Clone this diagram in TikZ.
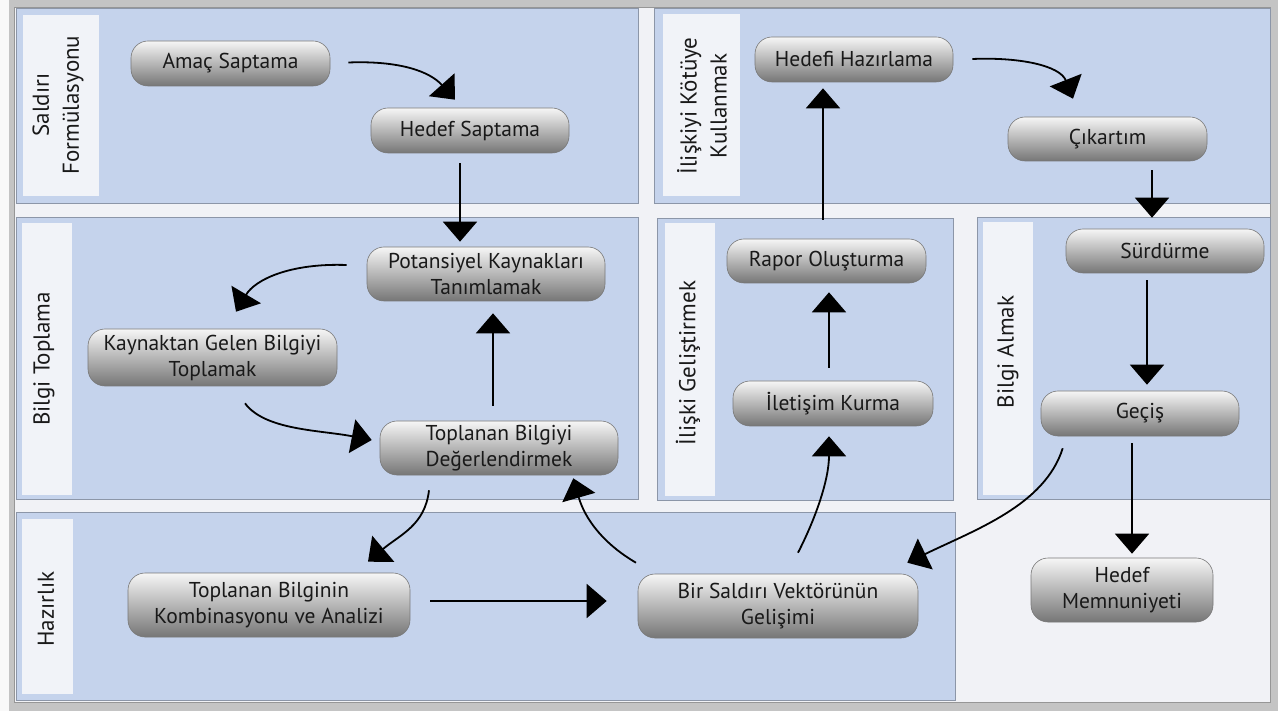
\documentclass[tikz,border=0pt]{standalone}
\usepackage{fontspec}
\setmainfont{PT Sans}
\usetikzlibrary{arrows.meta,calc}
\definecolor{panelfill}{RGB}{197,211,236}
\definecolor{paneledge}{RGB}{140,150,168}
\definecolor{stripfill}{RGB}{241,243,248}
\definecolor{bgfill}{RGB}{241,242,246}
\definecolor{framegray}{RGB}{196,196,196}
\definecolor{frameline}{RGB}{150,150,150}
\definecolor{nodetop}{RGB}{246,246,246}
\definecolor{nodebot}{RGB}{118,118,118}
\definecolor{nodeedge}{RGB}{120,120,120}
\definecolor{txt}{RGB}{25,25,25}
\begin{document}
\begin{tikzpicture}[x=1pt,y=-1pt,
  panel/.style={draw=paneledge, fill=panelfill, line width=0.8pt},
  strip/.style={fill=stripfill},
  lanelabel/.style={rotate=90, align=center, font=\fontsize{23}{30}\selectfont, text=txt, inner sep=0pt},
  proc/.style={draw=nodeedge, line width=0.6pt, rounded corners=17pt, top color=nodetop, bottom color=nodebot, align=center, font=\fontsize{21.5}{26}\selectfont, text=txt, inner sep=0pt},
  flow/.style={line width=1.8pt, -{Triangle[width=34pt,length=20pt]}}
]
\useasboundingbox (0,0) rectangle (1278,711);
% frame and background
\fill[framegray] (0,0) rectangle (1278,711);
\fill[white!90!framegray] (0,0) rectangle (9,711);
\fill[bgfill] (14,7) rectangle (1270,702);
\draw[frameline, line width=0.8pt] (14,7) rectangle (1270,702);

% panels
\path[panel] (16,8) rectangle (638,203);
\path[strip] (23,15) rectangle (99,196);
\path[panel] (654,8) rectangle (1270,203);
\path[strip] (663,14) rectangle (740,196);
\path[panel] (16,217) rectangle (638,499);
\path[strip] (22,223) rectangle (72,495);
\path[panel] (657,218) rectangle (953,500);
\path[strip] (665,223) rectangle (715,496);
\path[panel] (977,217) rectangle (1270,499);
\path[strip] (983,222) rectangle (1033,495);
\path[panel] (16,512) rectangle (955,700);
\path[strip] (22,519) rectangle (73,694);

% lane labels
\node[lanelabel] (l1) at (58,105) {Saldırı\\Formülasyonu};
\node[lanelabel] (l2) at (702,106) {İlişkiyi Kötüye\\Kullanmak};
\node[lanelabel] (l3) at (44,359) {Bilgi Toplama};
\node[lanelabel] (l4) at (688,363) {İlişki Geliştirmek};
\node[lanelabel] (l5) at (1008,352) {Bilgi Almak};
\node[lanelabel] (l6) at (46,609) {Hazırlık};

% process nodes
\node[proc, minimum width=199pt, minimum height=45pt] (amac) at (230.5,63.5) {Amaç Saptama};
\node[proc, minimum width=198pt, minimum height=45pt] (hedefs) at (470,130.5) {Hedef Saptama};
\node[proc, minimum width=238pt, minimum height=54pt] (potans) at (486,274) {Potansiyel Kaynakları\\Tanımlamak};
\node[proc, minimum width=249pt, minimum height=57pt] (kaynak) at (212.5,357.5) {Kaynaktan Gelen Bilgiyi\\Toplamak};
\node[proc, minimum width=238pt, minimum height=54pt] (degerl) at (499,448) {Toplanan Bilgiyi\\Değerlendirmek};
\node[proc, minimum width=282pt, minimum height=64pt] (kombin) at (269,605) {Toplanan Bilginin\\Kombinasyonu ve Analizi};
\node[proc, minimum width=280pt, minimum height=64pt] (vektor) at (778,606) {Bir Saldırı Vektörünün\\Gelişimi};
\node[proc, minimum width=200pt, minimum height=45pt] (iletisim) at (833,403.5) {İletişim Kurma};
\node[proc, minimum width=199pt, minimum height=44pt] (rapor) at (826.5,261) {Rapor Oluşturma};
\node[proc, minimum width=198pt, minimum height=45pt] (hhazir) at (854,59.5) {Hedefi Hazırlama};
\node[proc, minimum width=199pt, minimum height=44pt] (cikartim) at (1107.5,139) {Çıkartım};
\node[proc, minimum width=198pt, minimum height=44pt] (surdurme) at (1165,251) {Sürdürme};
\node[proc, minimum width=198pt, minimum height=45pt] (gecis) at (1140,413.5) {Geçiş};
\node[proc, minimum width=182pt, minimum height=64pt] (memnun) at (1122,590) {Hedef\\Memnuniyeti};

% connectors
\draw[flow] ($(amac.east)+(18,-1)$) .. controls +(52,-2) and +(-25,-28) .. ($(hedefs.north)+(-15,-8)$);
\draw[flow] ($(hedefs.south)+(-10,10)$) -- ($(potans.north)+(-26,-5)$);
\draw[flow] ($(potans.west)+(-20,-9)$) .. controls +(-57,-2) and +(19,-32) .. ($(kaynak.north)+(23.5,-17)$);
\draw[flow] ($(kaynak.south)+(32.5,17)$) .. controls +(20,27) and +(-52,-10) .. ($(degerl.west)+(-8,-8)$);
\draw[flow] ($(degerl.north)+(-6,-15)$) -- ($(potans.south)+(7,12)$);
\draw[flow] ($(degerl.south)+(-70,15)$) .. controls +(-4,35) and +(32,-27) .. ($(kombin.north)+(99,-11)$);
\draw[flow] ($(kombin.east)+(20,-4)$) -- ($(vektor.west)+(-31,-5)$);
\draw[flow] ($(vektor.north)+(-142,-11)$) .. controls +(-31,-18) and +(12,42) .. ($(degerl.south east)+(-45,3)$);
\draw[flow] ($(vektor.north)+(20,-21)$) .. controls +(17,-33) and +(0,44) .. ($(iletisim.south)+(-4,10)$);
\draw[flow] ($(iletisim.north)+(-4,-13)$) -- ($(rapor.south)+(2.5,9)$);
\draw[flow] ($(rapor.north)+(-3.5,-19)$) -- ($(hhazir.south)+(-31,6)$);
\draw[flow] ($(hhazir.east)+(19,-0.5)$) .. controls +(48,-2) and +(-13,-33) .. ($(cikartim.north)+(-34.5,-18)$);
\draw[flow] ($(cikartim.south)+(44.5,9)$) -- ($(surdurme.north)+(-13,-11)$);
\draw[flow] ($(surdurme.south)+(-18,7)$) -- ($(gecis.north)+(7,-6)$);
\draw[flow] ($(gecis.south)+(-8,7)$) -- ($(memnun.north)+(10,-4)$);
\draw[flow] ($(gecis.south west)+(22,12)$) .. controls +(-18,57) and +(68,-33) .. ($(vektor.north east)+(-11,-11)$);
\end{tikzpicture}
\end{document}
